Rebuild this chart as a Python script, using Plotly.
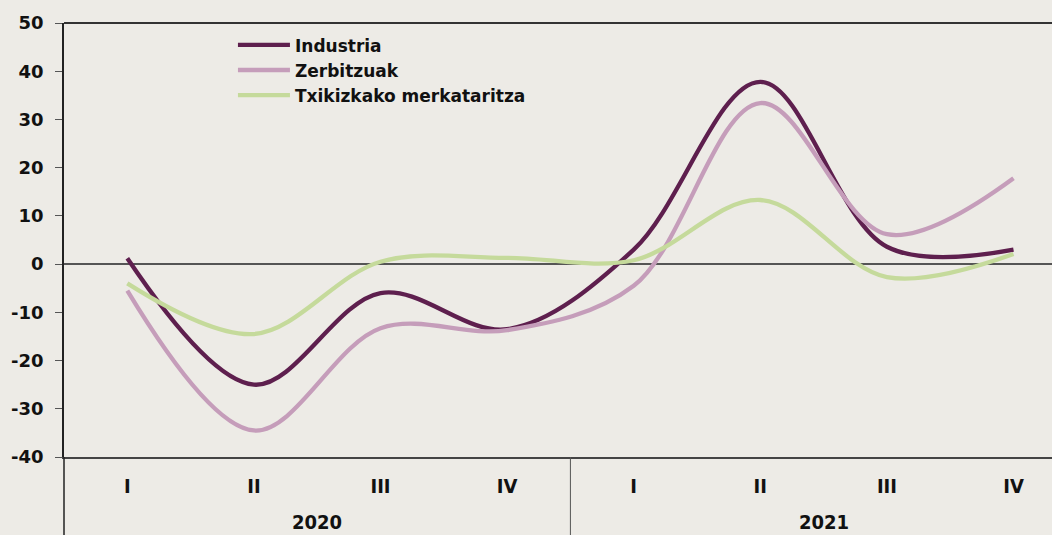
import plotly.graph_objects as go

quarters = ["I", "II", "III", "IV", "I", "II", "III", "IV"]
years = ["2020", "2021"]
industria = [1.2, -25.0, -6.0, -13.5, 3.0, 37.8, 3.6, 3.0]
zerbitzuak = [-5.5, -34.5, -13.3, -13.7, -4.5, 33.4, 6.2, 17.8]
txikizkako = [-4.0, -14.5, 0.5, 1.3, 0.8, 13.3, -2.7, 2.1]
y_ticks = [-40, -30, -20, -10, 0, 10, 20, 30, 40, 50]
y_tick_labels = ["-40", "-30", "-20", "-10", "0", "10", "20", "30", "40", "50"]

series = [
    ("Industria", industria, "#5E1F4E"),
    ("Zerbitzuak", zerbitzuak, "#C59DBA"),
    ("Txikizkako merkataritza", txikizkako, "#C5DA9B"),
]

xs = list(range(len(quarters)))
fig = go.Figure()
for name, vals, col in series:
    fig.add_trace(go.Scatter(
        x=xs, y=vals, name=name, mode="lines",
        line=dict(color=col, width=4.3, shape="spline", smoothing=1.0),
    ))

W, H = 1052, 535
L, R, T, B = 64, 0, 23, 78
plot_h = H - T - B
bottom_ext = -B / plot_h

bg = "#EDEBE6"
axis_font = dict(family="DejaVu Sans, Liberation Sans", size=18, color="#111111")
x_font = dict(family="Liberation Sans Narrow, DejaVu Sans Condensed", size=20, color="#111111")

fig.update_layout(
    width=W, height=H,
    margin=dict(l=L, r=R, t=T, b=B),
    paper_bgcolor=bg, plot_bgcolor=bg,
    showlegend=True,
    legend=dict(
        x=0.171, y=0.99, xanchor="left", yanchor="top",
        bgcolor="rgba(0,0,0,0)",
        font=dict(family="DejaVu Sans", size=17, color="#111111", weight="bold"),
        itemwidth=52, tracegroupgap=0,
    ),
    xaxis=dict(
        range=[-0.5, 7.304], tickmode="array", tickvals=xs, ticktext=quarters,
        showgrid=False, zeroline=False, showline=True, linecolor="#444444", linewidth=1.5,
        ticks="", tickfont=dict(**x_font, weight="bold"), ticklabelstandoff=10,
        fixedrange=True,
    ),
    yaxis=dict(
        range=[-40, 50], tickmode="array", tickvals=y_ticks, ticktext=y_tick_labels,
        showgrid=False, zeroline=True, zerolinecolor="#555555", zerolinewidth=1.5,
        showline=True, linecolor="#222222", linewidth=1.5,
        ticks="outside", ticklen=7, tickcolor="#555555", tickwidth=1.2,
        tickfont=dict(**axis_font, weight="bold"), ticklabelstandoff=8,
        fixedrange=True,
    ),
)

# top border of the plot
fig.add_shape(type="line", xref="paper", yref="paper", x0=0, x1=1, y0=1, y1=1,
              line=dict(color="#333333", width=2))
# left line extending below plot
fig.add_shape(type="line", xref="paper", yref="paper", x0=0, x1=0, y0=bottom_ext, y1=0,
              line=dict(color="#222222", width=1.5))
# year divider
fig.add_shape(type="line", xref="x", yref="paper", x0=3.5, x1=3.5, y0=bottom_ext, y1=0,
              line=dict(color="#555555", width=1))

for i, yr in enumerate(years):
    fig.add_annotation(x=1.5 + 4 * i, y=(457 - 522) / plot_h, xref="x", yref="paper",
                       text=yr, showarrow=False, yanchor="middle",
                       font=dict(**x_font, weight="bold"))

fig.write_html(
    "out.html",
    config={"displayModeBar": False},
    post_script="document.body.style.margin='0';document.body.style.padding='0';"
                "document.body.style.overflow='hidden';",
)
